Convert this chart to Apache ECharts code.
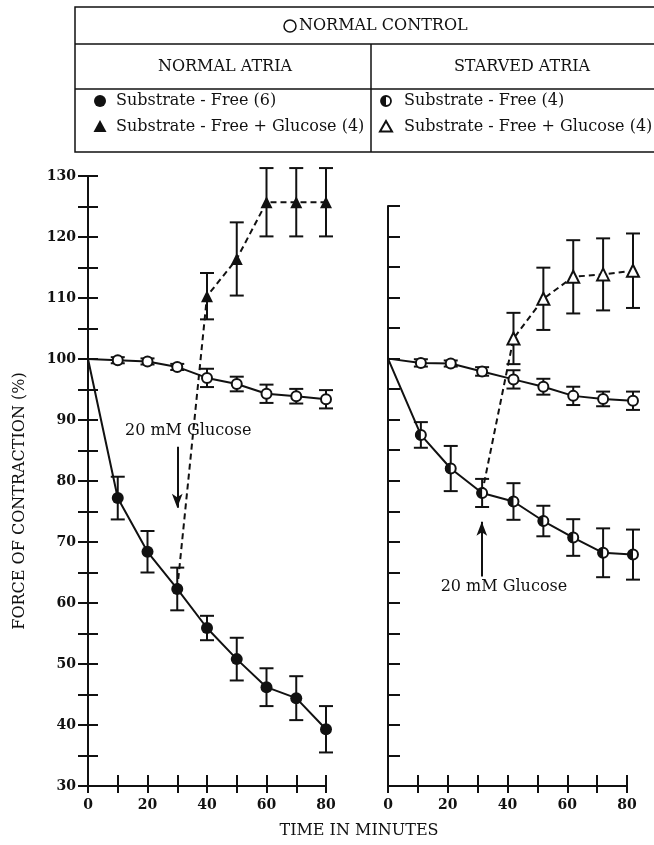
<!DOCTYPE html>
<html>
<head>
<meta charset="utf-8">
<title>Force of contraction</title>
<script src="https://cdn.jsdelivr.net/npm/echarts@6/dist/echarts.min.js"></script>
</head>
<body style="margin:0;background:#fff">
<div id="container" style="width:654px;height:845px"></div>
<script>
// normal atria
var normTime = [0, 10, 20, 30, 40, 50, 60, 70, 80];
var normControl = [100, 99.8, 99.6, 98.7, 96.9, 95.9, 94.3, 93.9, 93.4];
var normControlErr = [0, 0.5, 0.5, 0.5, 1.5, 1.2, 1.5, 1.2, 1.5];
var normFree = [100, 77.2, 68.4, 62.3, 55.9, 50.8, 46.2, 44.4, 39.3];
var normFreeErr = [0, 3.5, 3.4, 3.5, 2.0, 3.5, 3.1, 3.6, 3.8];
var normGlucTime = [30, 40, 50, 60, 70, 80];
var normGluc = [62.3, 110.3, 116.4, 125.7, 125.7, 125.7];
var normGlucErr = [0, 3.8, 6.0, 5.6, 5.6, 5.6];

// starved atria (points sit a little right of the ticks in the original)
var starvTime = [0, 11, 21, 31.5, 42, 52, 62, 72, 82];
var starvControl = [100, 99.3, 99.2, 97.9, 96.6, 95.4, 93.9, 93.4, 93.1];
var starvControlErr = [0, 0.6, 0.5, 0.7, 1.5, 1.3, 1.5, 1.2, 1.5];
var starvFree = [100, 87.5, 82.0, 78.0, 76.6, 73.4, 70.7, 68.2, 67.9];
var starvFreeErr = [0, 2.1, 3.7, 2.3, 3.0, 2.5, 3.0, 4.0, 4.1];
var starvGlucTime = [31.5, 42, 52, 62, 72, 82];
var starvGluc = [78.0, 103.3, 109.8, 113.4, 113.8, 114.4];
var starvGlucErr = [0, 4.2, 5.1, 6.0, 5.9, 6.1];

// glucose arrows [x, yFrom, yTo] and label spots
var normArrow = [30, 85.6, 75.6];
var starvArrow = [31.4, 64.3, 73.3];
var normNote = [33.7, 88.2];
var starvNote = [38.8, 62.6];

var black = '#111';
var serif = 'DejaVu Serif';
var font16 = '16px "DejaVu Serif"';

var chart = echarts.init(document.getElementById('container'));

function pts(xs, ys) {
    return xs.map(function (x, i) {
        var p = { value: [x, ys[i]] };
        if (i === 0) p.symbol = 'none';
        return p;
    });
}

function errSeries(xs, ys, es, g) {
    var d = [];
    xs.forEach(function (x, i) {
        if (es[i] > 0) d.push([x, ys[i] - es[i], ys[i] + es[i]]);
    });
    return {
        type: 'custom', xAxisIndex: g * 2, yAxisIndex: g * 2, data: d, z: 1, silent: true,
        renderItem: function (params, api) {
            var a = api.coord([api.value(0), api.value(1)]);
            var b = api.coord([api.value(0), api.value(2)]);
            var w = 7, st = { stroke: black, lineWidth: 2 };
            return {
                type: 'group', children: [
                    { type: 'line', shape: { x1: a[0], y1: a[1], x2: b[0], y2: b[1] }, style: st },
                    { type: 'line', shape: { x1: a[0] - w, y1: a[1], x2: a[0] + w, y2: a[1] }, style: st },
                    { type: 'line', shape: { x1: b[0] - w, y1: b[1], x2: b[0] + w, y2: b[1] }, style: st }
                ]
            };
        }
    };
}

function line(xs, ys, g, symbol, fill, size, dashed) {
    return {
        type: 'line', xAxisIndex: g * 2, yAxisIndex: g * 2, data: pts(xs, ys), z: 2,
        symbol: symbol, symbolSize: size, clip: false, silent: true,
        lineStyle: { color: black, width: 2, type: dashed ? [6, 4] : 'solid' },
        itemStyle: { color: fill, borderColor: black, borderWidth: fill === black ? 0 : 2 }
    };
}

// left half filled marker for starved substrate-free
function halfSeries(xs, ys, g) {
    return {
        type: 'custom', xAxisIndex: g * 2, yAxisIndex: g * 2, z: 3, silent: true,
        data: xs.slice(1).map(function (x, i) { return [x, ys[i + 1]]; }),
        renderItem: function (params, api) {
            var p = api.coord([api.value(0), api.value(1)]);
            return {
                type: 'sector',
                shape: { cx: p[0], cy: p[1], r0: 0, r: 5.5, startAngle: Math.PI / 2, endAngle: Math.PI * 1.5 },
                style: { fill: black }
            };
        }
    };
}

function arrow(a, g, note) {
    return {
        type: 'line', xAxisIndex: g * 2, yAxisIndex: g * 2, data: [], silent: true,
        markLine: {
            silent: true, symbol: ['none', 'arrow'], symbolSize: [8, 14],
            lineStyle: { color: black, width: 2, type: 'solid' }, label: { show: false },
            data: [[{ coord: [a[0], a[1]] }, { coord: [a[0], a[2]] }]]
        },
        markPoint: {
            silent: true, symbolSize: 0,
            label: { show: true, position: 'inside', formatter: '20 mM Glucose', color: black, fontFamily: serif, fontSize: 16 },
            data: [{ coord: note }]
        }
    };
}

function xAx(g, inside) {
    return {
        gridIndex: g, type: 'value', min: 0, max: 80, interval: 10, position: 'bottom',
        axisLine: { show: !inside, onZero: false, lineStyle: { color: black, width: 2 } },
        axisTick: { inside: inside, length: inside ? 11 : 7, lineStyle: { color: black, width: 2 } },
        axisLabel: {
            show: !inside, margin: 12, color: black, fontFamily: serif, fontSize: 14, fontWeight: 'bold',
            formatter: function (v) { return v % 20 === 0 ? v : ''; }
        },
        splitLine: { show: false }
    };
}

function yAx(g, inside, max, labels, len) {
    return {
        gridIndex: g, type: 'value', min: 30, max: max, interval: 5, position: 'left',
        axisLine: { show: !inside || !labels, onZero: false, lineStyle: { color: black, width: 2 } },
        axisTick: { show: len > 0, inside: inside, length: len, lineStyle: { color: black, width: 2 } },
        axisLabel: {
            show: labels && !inside, margin: 12, color: black, fontFamily: serif, fontSize: 14, fontWeight: 'bold',
            formatter: function (v) { return v % 10 === 0 ? v : ''; }
        },
        splitLine: { show: false }
    };
}

var option = {
    animation: false,
    backgroundColor: '#fff',
    grid: [
        { left: 88, top: 176, width: 238, height: 610 },
        { left: 388, top: 206, width: 239, height: 580 }
    ],
    xAxis: [xAx(0, false), xAx(0, true), xAx(1, false), xAx(1, true)],
    yAxis: [yAx(0, false, 130, true, 10), yAx(0, true, 130, true, 10), yAx(1, true, 125, false, 12), yAx(1, true, 125, true, 0)],
    series: [
        errSeries(normTime, normControl, normControlErr, 0),
        errSeries(normTime, normFree, normFreeErr, 0),
        errSeries(normGlucTime, normGluc, normGlucErr, 0),
        errSeries(starvTime, starvControl, starvControlErr, 1),
        errSeries(starvTime, starvFree, starvFreeErr, 1),
        errSeries(starvGlucTime, starvGluc, starvGlucErr, 1),
        line(normGlucTime, normGluc, 0, 'triangle', black, 12, true),
        line(normTime, normControl, 0, 'circle', '#fff', 10, false),
        line(normTime, normFree, 0, 'circle', black, 12, false),
        line(starvGlucTime, starvGluc, 1, 'triangle', '#fff', 12, true),
        line(starvTime, starvControl, 1, 'circle', '#fff', 10, false),
        line(starvTime, starvFree, 1, 'circle', '#fff', 10, false),
        halfSeries(starvTime, starvFree, 1),
        arrow(normArrow, 0, normNote),
        arrow(starvArrow, 1, starvNote)
    ],
    graphic: [
        // legend box
        { type: 'rect', shape: { x: 75, y: 7, width: 600, height: 145 }, style: { fill: 'none', stroke: black, lineWidth: 1.5 } },
        { type: 'line', shape: { x1: 75, y1: 44, x2: 660, y2: 44 }, style: { stroke: black, lineWidth: 1.5 } },
        { type: 'line', shape: { x1: 75, y1: 89, x2: 660, y2: 89 }, style: { stroke: black, lineWidth: 1.5 } },
        { type: 'line', shape: { x1: 371, y1: 44, x2: 371, y2: 152 }, style: { stroke: black, lineWidth: 1.5 } },
        { type: 'circle', shape: { cx: 290, cy: 26, r: 6 }, style: { fill: '#fff', stroke: black, lineWidth: 1.5 } },
        { type: 'text', x: 299, y: 26, style: { text: 'NORMAL CONTROL', font: font16, fill: black, textVerticalAlign: 'middle' } },
        { type: 'text', x: 225, y: 67, style: { text: 'NORMAL ATRIA', font: font16, fill: black, textAlign: 'center', textVerticalAlign: 'middle' } },
        { type: 'text', x: 522, y: 67, style: { text: 'STARVED ATRIA', font: font16, fill: black, textAlign: 'center', textVerticalAlign: 'middle' } },
        { type: 'circle', shape: { cx: 100, cy: 101, r: 6 }, style: { fill: black } },
        { type: 'text', x: 116, y: 101, style: { text: 'Substrate - Free (6)', font: font16, fill: black, textVerticalAlign: 'middle' } },
        { type: 'polygon', shape: { points: [[100, 120], [93.5, 132], [106.5, 132]] }, style: { fill: black } },
        { type: 'text', x: 116, y: 127, style: { text: 'Substrate - Free + Glucose (4)', font: font16, fill: black, textVerticalAlign: 'middle' } },
        { type: 'circle', shape: { cx: 386, cy: 101, r: 5 }, style: { fill: '#fff', stroke: black, lineWidth: 1.8 } },
        { type: 'sector', shape: { cx: 386, cy: 101, r0: 0, r: 5, startAngle: Math.PI / 2, endAngle: Math.PI * 1.5 }, style: { fill: black } },
        { type: 'text', x: 404, y: 101, style: { text: 'Substrate - Free (4)', font: font16, fill: black, textVerticalAlign: 'middle' } },
        { type: 'polygon', shape: { points: [[386, 121], [380, 131.5], [392, 131.5]] }, style: { fill: '#fff', stroke: black, lineWidth: 2 } },
        { type: 'text', x: 404, y: 127, style: { text: 'Substrate - Free + Glucose (4)', font: font16, fill: black, textVerticalAlign: 'middle' } },
        // axis titles
        { type: 'text', x: 20, y: 501, rotation: Math.PI / 2, style: { text: 'FORCE OF CONTRACTION (%)', font: font16, fill: black, textAlign: 'center', textVerticalAlign: 'middle' } },
        { type: 'text', x: 359, y: 831, style: { text: 'TIME IN MINUTES', font: font16, fill: black, textAlign: 'center', textVerticalAlign: 'middle' } }
    ]
};

chart.setOption(option);
</script>
</body>
</html>
